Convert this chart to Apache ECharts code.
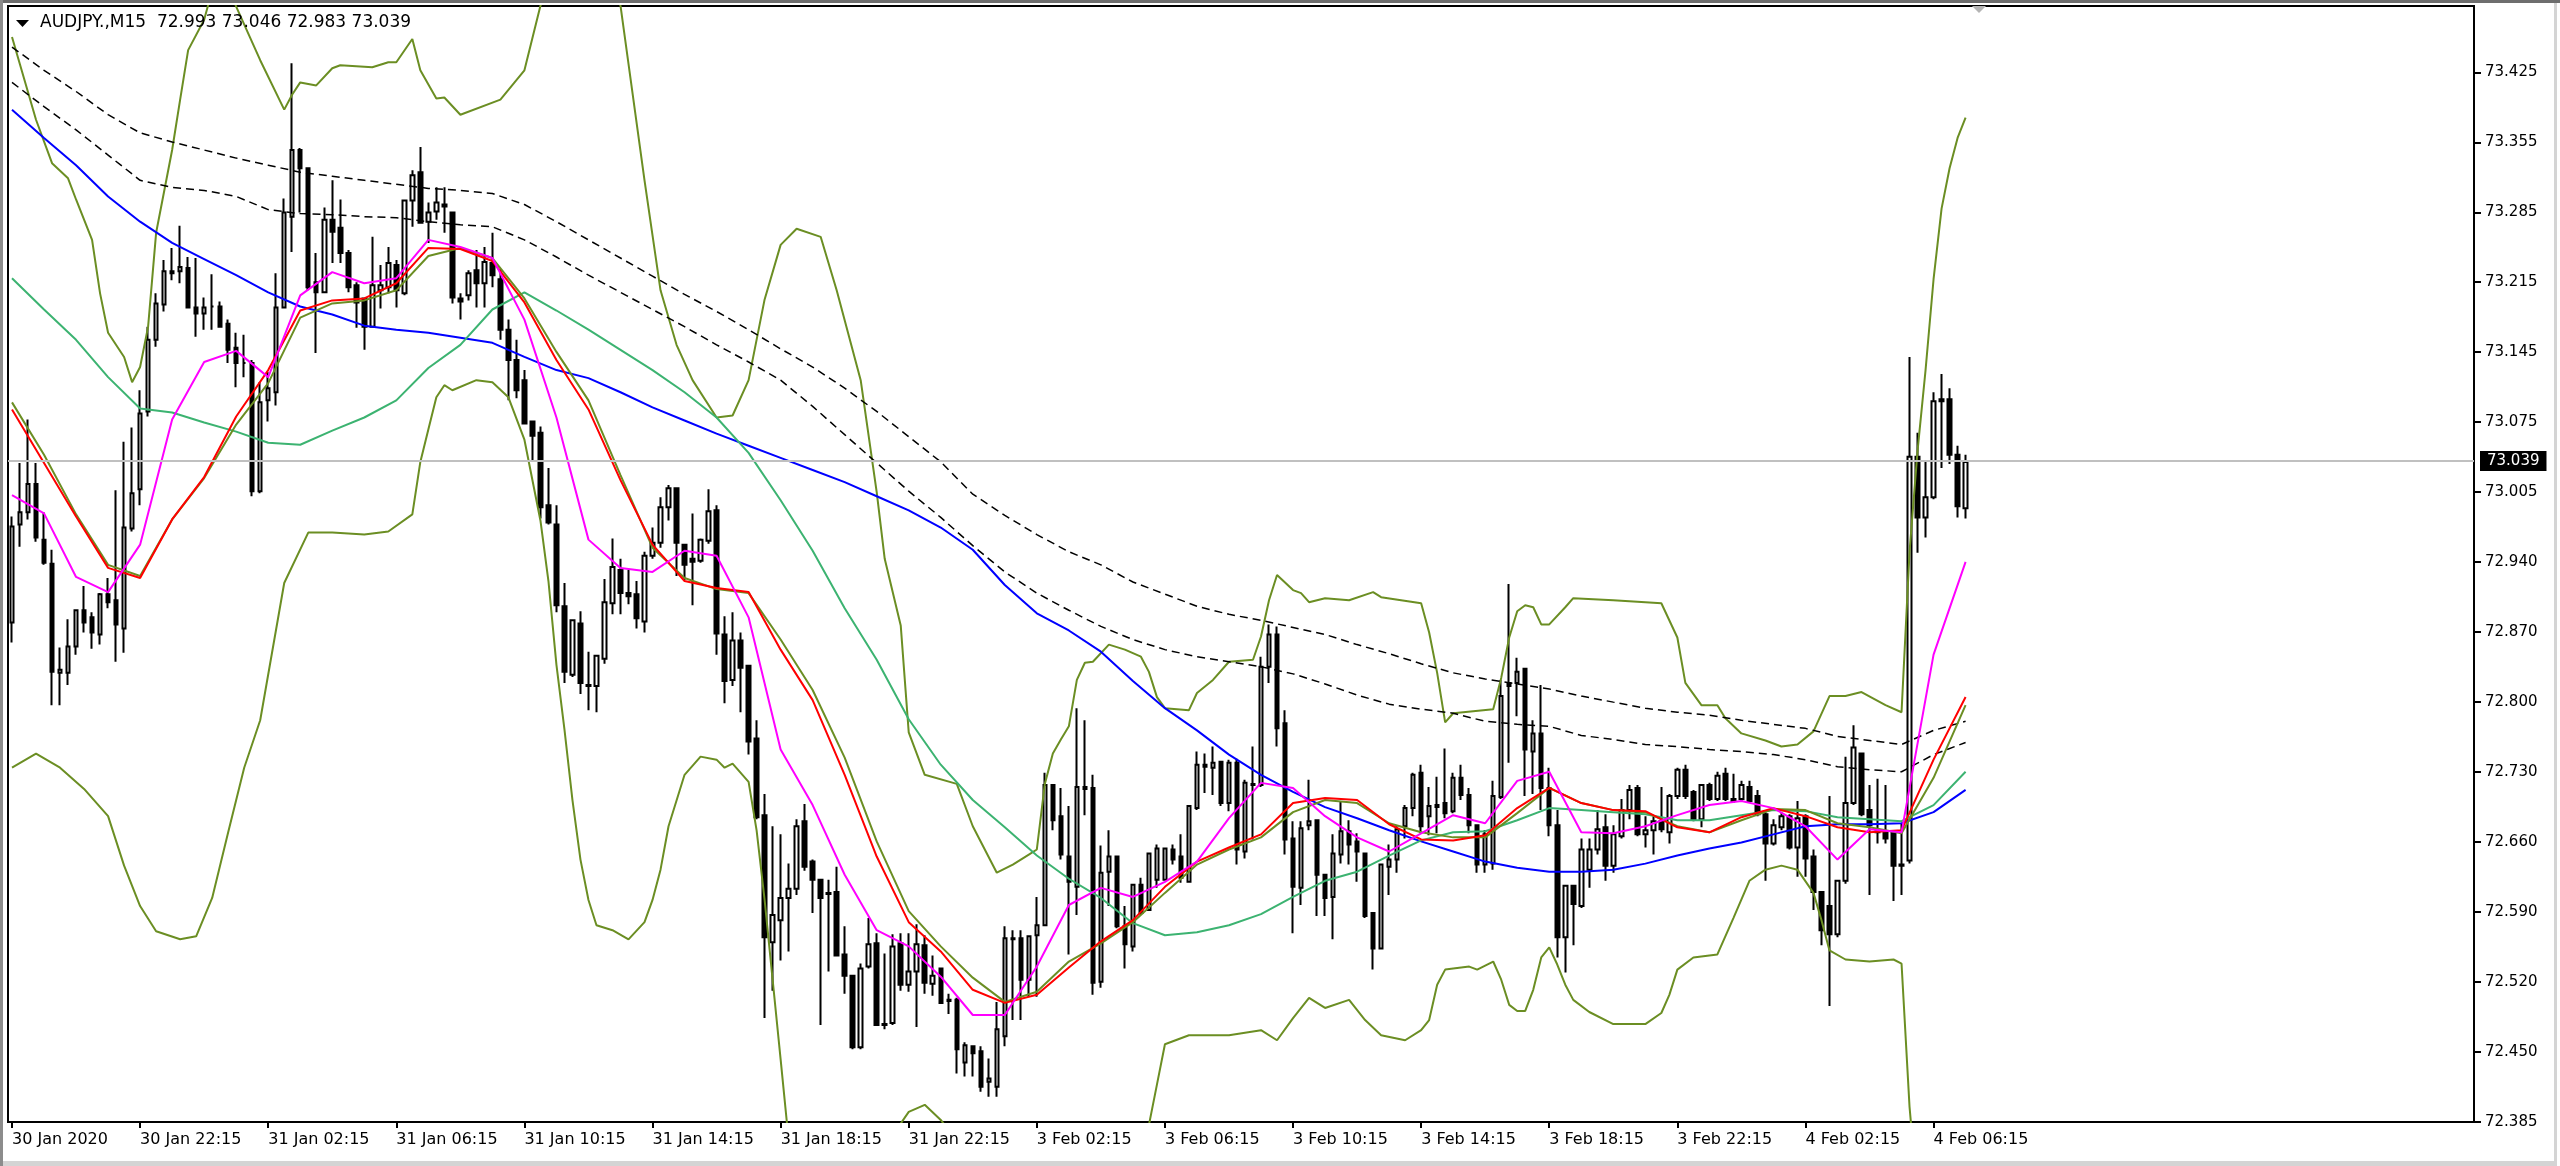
<!DOCTYPE html>
<html><head><meta charset="utf-8">
<script src="https://cdn.jsdelivr.net/npm/echarts@6/dist/echarts.min.js"></script>
<style>html,body{margin:0;padding:0;background:#fff;}#c{width:2560px;height:1166px;}</style>
</head><body><div id="c"></div>
<script>
const symbolName = 'AUDJPY.,M15';
const opens = [
72.880,72.977,72.989,73.017,72.962,72.938,72.830,72.830,72.856,72.892,
72.885,72.868,72.908,72.902,72.874,72.973,73.012,73.089,73.160,73.195,
73.228,73.228,73.231,73.192,73.186,73.193,73.193,73.176,73.152,73.137,
73.137,73.010,73.100,73.108,73.192,73.282,73.348,73.330,73.217,73.207,
73.279,73.271,73.246,73.214,73.201,73.173,73.209,73.212,73.234,73.206,
73.298,73.326,73.277,73.287,73.292,73.286,73.201,73.204,73.229,73.216,
73.236,73.220,73.170,73.140,73.120,73.079,73.068,72.996,72.977,72.896,
72.828,72.879,72.818,72.817,72.844,72.899,72.932,72.909,72.908,72.881,
72.946,72.959,72.994,73.013,72.957,72.943,72.941,72.961,72.991,72.868,
72.823,72.862,72.837,72.765,72.689,72.563,72.585,72.607,72.616,72.683,
72.643,72.625,72.612,72.613,72.551,72.530,72.459,72.539,72.562,72.481,
72.483,72.562,72.521,72.534,72.560,72.522,72.537,72.505,72.506,72.444,
72.460,72.455,72.425,72.420,72.470,72.566,72.567,72.526,72.570,72.580,
72.719,72.688,72.648,72.618,72.717,72.716,72.524,72.633,72.648,72.579,
72.559,72.620,72.595,72.625,72.625,72.655,72.648,72.623,72.696,72.739,
72.736,72.742,72.701,72.741,72.653,72.719,72.719,72.836,72.868,72.780,
72.666,72.617,72.679,72.684,72.630,72.608,72.650,72.673,72.663,72.651,
72.592,72.557,72.638,72.645,72.678,72.696,72.731,72.688,72.699,72.701,
72.693,72.726,72.709,72.679,72.640,72.641,72.707,72.820,72.820,72.834,
72.752,72.770,72.716,72.679,72.568,72.619,72.599,72.635,72.655,72.677,
72.639,72.668,72.694,72.716,72.670,72.674,72.683,72.672,72.708,72.734,
72.712,72.685,72.719,72.705,72.730,72.705,72.705,72.717,72.708,72.690,
72.661,72.677,72.688,72.657,72.688,72.648,72.613,72.599,72.571,72.624,
72.701,72.750,72.694,72.672,72.672,72.672,72.640,72.644,73.044,72.984,
73.004,73.101,73.101,73.046,72.993];
const highs = [
72.985,73.038,73.081,73.038,72.989,72.952,72.855,72.883,72.893,72.916,
72.890,72.909,72.924,73.011,73.059,73.073,73.110,73.173,73.206,73.239,
73.251,73.273,73.242,73.241,73.202,73.225,73.198,73.180,73.167,73.165,
73.140,73.118,73.128,73.226,73.300,73.434,73.350,73.331,73.246,73.291,
73.318,73.299,73.249,73.217,73.202,73.262,73.234,73.252,73.239,73.298,
73.328,73.351,73.296,73.311,73.311,73.286,73.206,73.229,73.249,73.252,
73.266,73.230,73.180,73.160,73.130,73.080,73.074,73.033,72.996,72.919,
72.882,72.891,72.851,72.848,72.923,72.963,72.943,72.932,72.921,72.950,
72.974,73.004,73.016,73.013,72.957,72.988,72.963,73.012,72.996,72.886,
72.890,72.870,72.838,72.783,72.710,72.678,72.670,72.641,72.685,72.700,
72.645,72.625,72.625,72.638,72.579,72.530,72.542,72.587,72.572,72.552,
72.571,72.572,72.572,72.581,72.570,72.550,72.537,72.512,72.508,72.464,
72.461,72.460,72.448,72.504,72.579,72.575,72.575,72.570,72.608,72.731,
72.719,72.716,72.698,72.795,72.783,72.729,72.659,72.674,72.648,72.599,
72.620,72.627,72.651,72.660,72.656,72.660,72.670,72.698,72.752,72.750,
72.757,72.742,72.744,72.745,72.724,72.757,72.846,72.878,72.876,72.793,
72.683,72.683,72.724,72.684,72.630,72.670,72.702,72.684,72.671,72.651,
72.592,72.640,72.660,72.678,72.699,72.731,72.739,72.717,72.727,72.755,
72.731,72.739,72.716,72.679,72.674,72.723,72.823,72.918,72.845,72.834,
72.783,72.818,72.736,72.694,72.619,72.619,72.666,72.666,72.694,72.690,
72.679,72.705,72.719,72.719,72.688,72.688,72.717,72.710,72.736,72.739,
72.714,72.719,72.721,72.732,72.736,72.730,72.723,72.723,72.714,72.692,
72.685,72.692,72.690,72.703,72.690,72.655,72.613,72.708,72.624,72.747,
72.778,72.750,72.719,72.725,72.719,72.672,72.681,73.143,73.068,73.041,
73.108,73.126,73.112,73.055,73.046];
const lows = [
72.860,72.955,72.982,72.960,72.937,72.798,72.798,72.818,72.848,72.870,
72.854,72.858,72.894,72.841,72.850,72.970,72.996,73.084,73.153,73.188,
73.219,73.216,73.192,73.163,73.170,73.170,73.172,73.137,73.113,73.123,
73.005,73.008,73.079,73.095,73.192,73.247,73.286,73.209,73.147,73.207,
73.236,73.236,73.207,73.172,73.150,73.173,73.191,73.206,73.192,73.204,
73.272,73.276,73.256,73.279,73.266,73.196,73.180,73.199,73.192,73.192,
73.212,73.160,73.100,73.102,73.077,73.041,72.983,72.977,72.890,72.820,
72.826,72.809,72.793,72.791,72.839,72.888,72.888,72.898,72.874,72.870,
72.943,72.954,72.981,72.926,72.922,72.897,72.939,72.958,72.848,72.800,
72.817,72.791,72.749,72.685,72.488,72.515,72.545,72.554,72.610,72.634,
72.592,72.481,72.534,72.550,72.512,72.457,72.457,72.537,72.481,72.477,
72.481,72.515,72.514,72.479,72.512,72.510,72.503,72.492,72.433,72.430,
72.430,72.415,72.410,72.410,72.460,72.486,72.486,72.509,72.509,72.579,
72.674,72.645,72.551,72.590,72.689,72.511,72.518,72.599,72.577,72.537,
72.554,72.590,72.594,72.617,72.625,72.640,72.622,72.623,72.694,72.711,
72.709,72.698,72.693,72.640,72.646,72.665,72.717,72.820,72.757,72.650,
72.572,72.600,72.674,72.589,72.589,72.566,72.641,72.640,72.623,72.587,
72.536,72.556,72.610,72.632,72.666,72.688,72.671,72.669,72.671,72.686,
72.691,72.704,72.671,72.632,72.632,72.635,72.705,72.741,72.787,72.708,
72.710,72.694,72.668,72.548,72.533,72.560,72.597,72.617,72.650,72.624,
72.632,72.666,72.685,72.668,72.657,72.650,72.672,72.661,72.705,72.705,
72.683,72.677,72.703,72.703,72.703,72.701,72.703,72.701,72.688,72.624,
72.659,72.674,72.655,72.628,72.628,72.595,72.560,72.500,72.568,72.621,
72.699,72.688,72.610,72.661,72.661,72.604,72.610,72.641,72.949,72.964,
73.002,73.033,73.037,72.984,72.983];
const closes = [
72.975,72.989,73.017,72.964,72.939,72.831,72.833,72.856,72.892,72.880,
72.870,72.908,72.900,72.878,72.974,73.008,73.087,73.160,73.196,73.228,
73.226,73.232,73.192,73.186,73.192,73.193,73.173,73.150,73.137,73.137,
73.010,73.098,73.112,73.192,73.286,73.348,73.330,73.212,73.207,73.279,
73.267,73.246,73.212,73.197,73.173,73.214,73.214,73.236,73.209,73.298,
73.323,73.276,73.286,73.296,73.294,73.202,73.198,73.226,73.216,73.237,
73.224,73.170,73.140,73.110,73.077,73.065,72.994,72.979,72.897,72.831,
72.882,72.820,72.817,72.847,72.900,72.935,72.909,72.906,72.884,72.946,
72.959,72.994,73.013,72.959,72.937,72.940,72.962,72.990,72.869,72.822,
72.862,72.835,72.762,72.687,72.568,72.590,72.607,72.616,72.678,72.638,
72.625,72.607,72.611,72.550,72.530,72.459,72.537,72.561,72.481,72.482,
72.559,72.521,72.534,72.561,72.523,72.530,72.503,72.506,72.457,72.461,
72.453,72.420,72.428,72.477,72.567,72.567,72.526,72.569,72.580,72.719,
72.684,72.650,72.623,72.717,72.715,72.523,72.632,72.648,72.579,72.561,
72.620,72.592,72.651,72.656,72.656,72.645,72.627,72.698,72.739,72.737,
72.741,72.701,72.741,72.655,72.721,72.720,72.836,72.868,72.775,72.665,
72.618,72.676,72.683,72.630,72.607,72.651,72.673,72.660,72.653,72.589,
72.557,72.640,72.645,72.675,72.696,72.729,72.678,72.698,72.697,72.691,
72.726,72.709,72.679,72.640,72.670,72.708,72.807,72.817,72.831,72.754,
72.770,72.716,72.679,72.568,72.619,72.601,72.655,72.655,72.675,72.639,
72.670,72.694,72.714,72.670,72.674,72.683,72.675,72.708,72.734,72.708,
72.685,72.719,72.705,72.728,72.705,72.703,72.719,72.703,72.690,72.661,
72.679,72.688,72.657,72.686,72.646,72.613,72.575,72.571,72.624,72.701,
72.756,72.690,72.679,72.673,72.666,72.639,72.639,73.044,72.984,73.004,
73.099,73.099,73.046,72.995,73.039];

const tickBars = [0,16,32,48,64,80,96,112,128,144,160,176,192,208,224,240];
const tickLabels = ['30 Jan 2020','30 Jan 22:15','31 Jan 02:15','31 Jan 06:15','31 Jan 10:15','31 Jan 14:15','31 Jan 18:15','31 Jan 22:15','3 Feb 02:15','3 Feb 06:15','3 Feb 10:15','3 Feb 14:15','3 Feb 18:15','3 Feb 22:15','4 Feb 02:15','4 Feb 06:15'];
const yLabels = ['72.385','72.450','72.520','72.590','72.660','72.730','72.800','72.870','72.940','73.005','73.075','73.145','73.215','73.285','73.355','73.425'];

const maBars = [0,4,8,12,16,20,24,28,32,36,40,44,48,52,56,60,64,68,72,76,80,84,88,92,96,100,104,108,112,116,120,124,128,132,136,140,144,148,152,156,160,164,168,172,176,180,184,188,192,196,200,204,208,212,216,220,224,228,232,236,240,244];
const blueMA = [73.388,73.360,73.333,73.302,73.277,73.256,73.240,73.224,73.207,73.193,73.185,73.174,73.170,73.167,73.162,73.157,73.143,73.130,73.122,73.108,73.093,73.080,73.067,73.055,73.043,73.031,73.019,73.005,72.991,72.974,72.952,72.917,72.889,72.872,72.851,72.822,72.795,72.773,72.749,72.729,72.712,72.697,72.686,72.674,72.663,72.653,72.643,72.637,72.633,72.633,72.635,72.641,72.649,72.656,72.662,72.670,72.678,72.680,72.680,72.681,72.692,72.714];
const tealMA = [73.221,73.190,73.160,73.123,73.092,73.088,73.078,73.069,73.058,73.056,73.070,73.083,73.100,73.132,73.155,73.190,73.207,73.189,73.170,73.150,73.130,73.108,73.083,73.048,73.001,72.951,72.894,72.843,72.784,72.739,72.704,72.677,72.649,72.626,72.607,72.582,72.570,72.573,72.580,72.591,72.608,72.624,72.633,72.649,72.664,72.672,72.673,72.684,72.696,72.694,72.692,72.690,72.684,72.684,72.689,72.694,72.693,72.687,72.685,72.683,72.699,72.732];
const redMA = [73.091,73.038,72.985,72.934,72.924,72.982,73.024,73.084,73.130,73.189,73.199,73.201,73.216,73.251,73.250,73.238,73.197,73.140,73.091,73.021,72.957,72.921,72.914,72.910,72.853,72.803,72.729,72.648,72.583,72.554,72.516,72.503,72.511,72.538,72.564,72.585,72.618,72.643,72.657,72.670,72.701,72.706,72.704,72.680,72.665,72.664,72.669,72.696,72.716,72.701,72.694,72.693,72.677,72.672,72.687,72.696,72.688,72.677,72.672,72.674,72.744,72.806];
const bbMiddle = [73.098,73.046,72.987,72.937,72.926,72.982,73.023,73.076,73.117,73.182,73.196,73.199,73.209,73.243,73.251,73.241,73.201,73.148,73.100,73.026,72.954,72.924,72.913,72.909,72.863,72.813,72.746,72.663,72.594,72.559,72.528,72.504,72.514,72.544,72.562,72.583,72.612,72.640,72.655,72.667,72.692,72.704,72.701,72.681,72.672,72.667,72.667,72.691,72.716,72.701,72.694,72.692,72.678,72.672,72.684,72.695,72.694,72.681,72.677,72.671,72.726,72.798];
const magentaMA = [73.006,72.988,72.925,72.910,72.957,73.081,73.138,73.149,73.123,73.204,73.227,73.216,73.221,73.259,73.252,73.241,73.180,73.083,72.962,72.934,72.930,72.951,72.946,72.885,72.754,72.699,72.630,72.575,72.559,72.529,72.491,72.491,72.539,72.600,72.617,72.608,72.623,72.643,72.686,72.721,72.716,72.688,72.667,72.653,72.671,72.689,72.681,72.723,72.732,72.672,72.671,72.678,72.689,72.699,72.703,72.696,72.678,72.645,72.675,72.672,72.848,72.940];
const dashUpper = [73.450,73.427,73.406,73.383,73.365,73.356,73.348,73.340,73.333,73.326,73.322,73.318,73.314,73.310,73.308,73.305,73.294,73.277,73.259,73.241,73.223,73.205,73.188,73.170,73.151,73.133,73.112,73.089,73.064,73.039,73.007,72.986,72.967,72.950,72.937,72.920,72.908,72.896,72.888,72.882,72.875,72.868,72.858,72.849,72.839,72.830,72.824,72.819,72.814,72.807,72.801,72.795,72.791,72.788,72.783,72.779,72.775,72.767,72.763,72.759,72.773,72.782];
const dashLower = [73.415,73.391,73.368,73.343,73.318,73.311,73.308,73.302,73.289,73.285,73.284,73.282,73.281,73.277,73.274,73.272,73.259,73.242,73.224,73.207,73.190,73.173,73.155,73.138,73.120,73.094,73.066,73.038,73.010,72.984,72.956,72.930,72.909,72.892,72.876,72.863,72.853,72.846,72.841,72.836,72.829,72.819,72.808,72.799,72.794,72.790,72.782,72.779,72.777,72.768,72.764,72.759,72.757,72.754,72.752,72.749,72.744,72.737,72.734,72.732,72.749,72.761];
const bbUpper = [[0,73.460],[3,73.378],[5,73.335],[7,73.320],[8,73.299],[10,73.259],[11,73.206],[12,73.167],[14,73.143],[15,73.118],[16,73.133],[17,73.173],[18,73.266],[20,73.348],[21,73.398],[22,73.447],[24,73.477],[26,73.536],[28,73.490],[31,73.437],[34,73.388],[35,73.403],[36,73.415],[38,73.412],[40,73.429],[41,73.432],[45,73.430],[47,73.435],[48,73.435],[50,73.458],[51,73.427],[53,73.399],[54,73.400],[56,73.383],[61,73.398],[64,73.427],[66,73.491],[69,73.536],[73,73.546],[76,73.491],[79,73.318],[81,73.209],[83,73.155],[85,73.120],[88,73.083],[90,73.085],[92,73.120],[94,73.200],[96,73.254],[98,73.270],[101,73.262],[103,73.209],[106,73.120],[108,73.009],[109,72.943],[111,72.877],[112,72.771],[114,72.729],[118,72.720],[120,72.678],[123,72.632],[125,72.640],[127,72.650],[128,72.655],[129,72.720],[130,72.750],[131,72.764],[132,72.777],[133,72.823],[134,72.840],[135,72.841],[137,72.858],[139,72.853],[141,72.846],[142,72.831],[143,72.806],[144,72.795],[147,72.793],[148,72.810],[150,72.823],[152,72.841],[155,72.843],[156,72.866],[157,72.902],[158,72.927],[160,72.912],[161,72.909],[162,72.900],[164,72.904],[167,72.902],[170,72.910],[171,72.905],[176,72.899],[177,72.870],[178,72.830],[179,72.781],[180,72.790],[185,72.794],[186,72.825],[187,72.865],[188,72.891],[189,72.897],[190,72.895],[191,72.878],[192,72.878],[194,72.895],[195,72.904],[200,72.902],[206,72.899],[208,72.865],[209,72.820],[211,72.798],[213,72.798],[214,72.785],[216,72.770],[219,72.763],[221,72.757],[223,72.759],[225,72.772],[227,72.807],[229,72.807],[231,72.811],[234,72.798],[236,72.791],[237,72.950],[238,73.050],[239,73.130],[240,73.220],[241,73.290],[242,73.330],[243,73.360],[244,73.380]];
const bbLower = [[0,72.736],[3,72.750],[6,72.736],[9,72.715],[12,72.688],[14,72.639],[16,72.599],[18,72.574],[21,72.566],[23,72.569],[25,72.607],[27,72.672],[29,72.736],[31,72.783],[34,72.919],[37,72.969],[40,72.969],[44,72.967],[47,72.970],[50,72.987],[51,73.039],[52,73.071],[53,73.103],[54,73.115],[55,73.110],[58,73.120],[60,73.118],[62,73.103],[64,73.061],[66,72.981],[67,72.921],[68,72.838],[69,72.774],[70,72.704],[71,72.645],[72,72.605],[73,72.580],[75,72.575],[77,72.566],[79,72.583],[80,72.605],[81,72.635],[82,72.678],[84,72.729],[86,72.747],[88,72.744],[89,72.736],[90,72.740],[92,72.722],[93,72.674],[94,72.605],[95,72.526],[96,72.447],[97,72.367],[99,72.343],[102,72.333],[105,72.333],[108,72.358],[110,72.372],[112,72.395],[114,72.402],[116,72.387],[118,72.367],[121,72.353],[125,72.343],[130,72.328],[135,72.323],[139,72.338],[142,72.382],[143,72.422],[144,72.462],[147,72.471],[152,72.471],[156,72.476],[158,72.466],[160,72.488],[162,72.508],[164,72.498],[167,72.506],[169,72.486],[171,72.471],[174,72.466],[176,72.476],[177,72.486],[178,72.521],[179,72.536],[182,72.539],[183,72.536],[185,72.544],[186,72.526],[187,72.501],[188,72.495],[189,72.495],[190,72.516],[191,72.548],[192,72.558],[193,72.541],[194,72.521],[195,72.506],[197,72.494],[200,72.482],[204,72.482],[206,72.493],[207,72.511],[208,72.536],[210,72.548],[213,72.551],[215,72.587],[217,72.624],[219,72.635],[221,72.639],[223,72.635],[225,72.612],[226,72.585],[227,72.555],[229,72.546],[232,72.544],[235,72.546],[236,72.542],[237,72.400],[238,72.310],[239,72.270],[240,72.230],[242,72.210],[244,72.220]];

// ---- layout / building ----
const NCAT = 308;
const yMin = 72.385, yStep = 1.04 / 15, yMax = 73.4907;
const cats = []; for (let i = 0; i < NCAT; i++) cats.push(String(i));
function sparse(bars, vals) { const a = new Array(NCAT).fill(null); bars.forEach((b, k) => { a[b] = vals[k]; }); return a; }
function sparsePairs(pairs) { const a = new Array(NCAT).fill(null); pairs.forEach(p => { a[p[0]] = p[1]; }); return a; }
const candleData = opens.map((o, i) => [o, closes[i], lows[i], highs[i]]);
const last = opens.length - 1;
const headerText = symbolName + '  ' + opens[last].toFixed(3) + ' ' + highs[last].toFixed(3) + ' ' + lows[last].toFixed(3) + ' ' + closes[last].toFixed(3);
const tickSet = {}; tickBars.forEach((b, k) => { tickSet[b] = tickLabels[k]; });
const FONT = '"DejaVu Sans", Verdana, sans-serif';

function lineS(name, data, color, width, dash, z) {
  return { name, type: 'line', data, connectNulls: true, showSymbol: false, symbol: 'none', silent: true,
    animation: false, clip: true, z: z || 3, lineStyle: { color, width, type: dash || 'solid' } };
}

const chart = echarts.init(document.getElementById('c'), null, { renderer: 'canvas' });
chart.setOption({
  animation: false,
  backgroundColor: '#ffffff',
  grid: { left: 8, top: 6, width: 2466, height: 1116, show: true, borderColor: '#000', borderWidth: 2, backgroundColor: '#fff', containLabel: false, outerBoundsMode: 'none' },
  xAxis: {
    type: 'category', data: cats, boundaryGap: true,
    axisLine: { show: false },
    axisTick: { show: true, alignWithLabel: true, length: 6, interval: (i) => tickSet[i] !== undefined, lineStyle: { color: '#000', width: 2 } },
    axisLabel: { show: true, interval: (i) => tickSet[i] !== undefined, formatter: (v, i) => tickSet[i] || '', align: 'left', margin: 10, color: '#000', fontFamily: FONT, fontSize: 16 },
    splitLine: { show: false }
  },
  yAxis: {
    type: 'value', position: 'right', min: yMin, max: yMax, interval: yStep, scale: false,
    axisLine: { show: false },
    axisTick: { show: true, length: 7, lineStyle: { color: '#000', width: 2 } },
    axisLabel: { show: true, margin: 11, color: '#000', fontFamily: FONT, fontSize: 15, showMaxLabel: false,
      formatter: (v) => { const k = Math.round((v - yMin) / yStep); return (Math.abs(v - (yMin + k * yStep)) < 1e-6 && yLabels[k]) ? yLabels[k] : ''; } },
    splitLine: { show: false }
  },
  series: [
    {
      type: 'candlestick', data: candleData, barWidth: 4, z: 2, silent: true, animation: false,
      itemStyle: { color: '#ffffff', color0: '#000000', borderColor: '#000000', borderColor0: '#000000', borderColorDoji: '#000000', borderWidth: 2 },
      markLine: {
        silent: true, animation: false, symbol: ['none', 'none'],
        lineStyle: { color: '#c0c0c0', width: 2, type: 'solid' },
        label: { show: true, position: 'end', distance: 6, formatter: closes[last].toFixed(3), color: '#ffffff', backgroundColor: '#000000', padding: [3, 7, 2, 7], fontFamily: FONT, fontSize: 15 },
        data: [{ yAxis: closes[last] }]
      }
    },
    lineS('BB upper', sparsePairs(bbUpper), '#6B8E23', 2),
    lineS('BB lower', sparsePairs(bbLower), '#6B8E23', 2),
    lineS('Envelope upper', sparse(maBars, dashUpper), '#000000', 1.5, [8, 5]),
    lineS('Envelope lower', sparse(maBars, dashLower), '#000000', 1.5, [8, 5]),
    lineS('MA blue', sparse(maBars, blueMA), '#0000FF', 2),
    lineS('MA green', sparse(maBars, tealMA), '#3CB371', 2),
    lineS('BB middle', sparse(maBars, bbMiddle), '#6B8E23', 2),
    lineS('MA red', sparse(maBars, redMA), '#FF0000', 2),
    lineS('MA magenta', sparse(maBars, magentaMA), '#FF00FF', 2)
  ],
  graphic: [
    { type: 'rect', silent: true, z: 100, shape: { x: 0, y: 0, width: 2560, height: 3 }, style: { fill: '#6e6e6e' } },
    { type: 'rect', silent: true, z: 100, shape: { x: 0, y: 0, width: 3, height: 1166 }, style: { fill: '#8c8c8c' } },
    { type: 'rect', silent: true, z: 100, shape: { x: 2554, y: 3, width: 3, height: 1163 }, style: { fill: '#d4d4d4' } },
    { type: 'rect', silent: true, z: 100, shape: { x: 3, y: 1161, width: 2554, height: 5 }, style: { fill: '#d4d4d4' } },
    { type: 'polygon', silent: true, z: 100, shape: { points: [[16, 20], [29, 20], [22.5, 27]] }, style: { fill: '#000' } },
    { type: 'polygon', silent: true, z: 100, shape: { points: [[1972, 6], [1986, 6], [1979, 13]] }, style: { fill: '#b4b4b4' } },
    { type: 'text', silent: true, z: 100, x: 40, y: 23, style: { text: headerText, font: '17px ' + FONT, fill: '#000', verticalAlign: 'middle', align: 'left' } }
  ]
});
</script>
</body></html>
